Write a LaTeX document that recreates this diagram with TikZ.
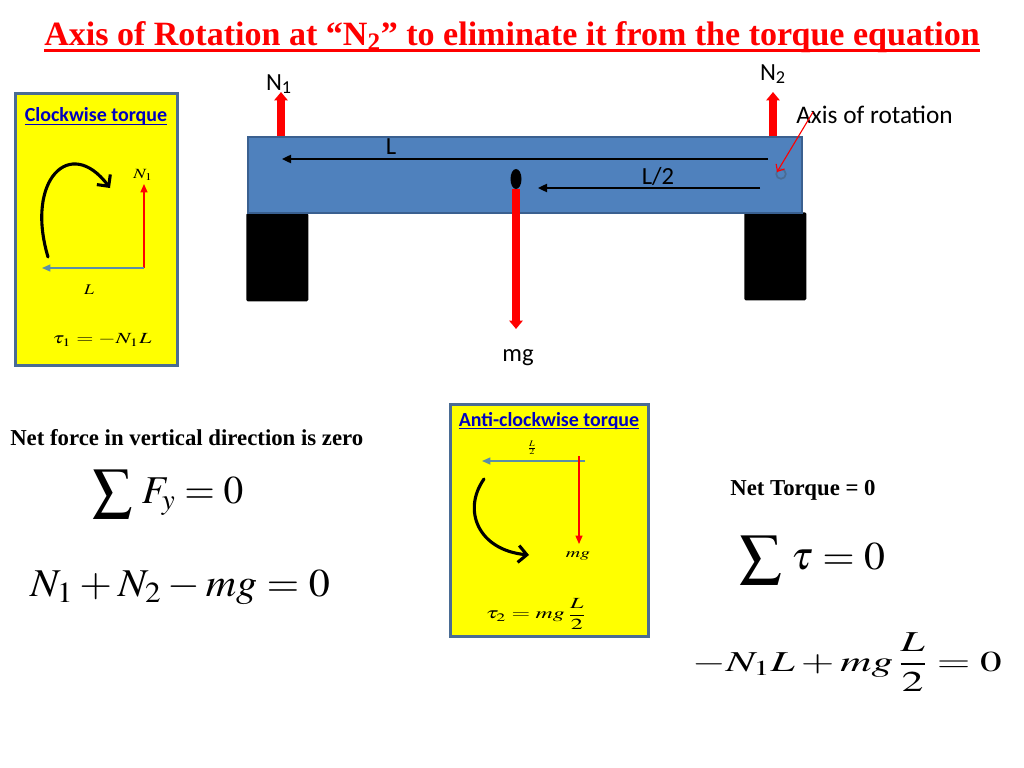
\documentclass[tikz,border=0pt]{standalone}
\usepackage{mathptmx}
\usepackage{amsmath}
\usepackage{graphicx}
\usepackage{fontspec}
\setmainfont{Liberation Serif}
\newfontfamily\calibri{Carlito}
\usetikzlibrary{arrows.meta,shapes.geometric}
\definecolor{beamblue}{HTML}{4F81BD}
\definecolor{beamedge}{HTML}{3A6090}
\definecolor{boxedge}{HTML}{4A6C94}
\definecolor{leverblue}{HTML}{5B8FA8}
\definecolor{headblue}{HTML}{0000C0}
\definecolor{boxyellow}{HTML}{FFFF00}
\tikzset{
    forcearrow/.style={draw=red,line width=5pt,-{Triangle[width=9.5pt,length=6pt]}},
    thinarrow/.style={draw=black,line width=1pt,-{Triangle[width=6pt,length=6.5pt]}},
    redarrow/.style={draw=red,line width=0.9pt,-{Triangle[width=5pt,length=6pt]}},
    leverarrow/.style={draw=leverblue,line width=1pt,-{Triangle[width=5pt,length=6pt]}},
    turnarrow/.style={draw=black,line width=2.2pt,-{Straight Barb[length=6pt,width=12pt,line width=2.2pt]},line cap=round},
    torquebox/.style={draw=boxedge,fill=boxyellow,line width=2pt,inner sep=0pt,anchor=north west},
    support/.style={fill=black,rounded corners=1pt,inner sep=0pt,anchor=north west},
    plainlabel/.style={inner sep=0pt,font=\calibri\fontsize{17.5}{19}\selectfont},
    boxtitle/.style={inner sep=0pt,text=headblue,font=\calibri\bfseries\fontsize{14.2}{16}\selectfont},
    boldnote/.style={inner sep=0pt,font=\bfseries\fontsize{16.2}{18}\selectfont}
}
\begin{document}
\begin{tikzpicture}[x=0.025cm,y=-0.025cm]
    \useasboundingbox (0,0) rectangle (1024,768);

    % title
    \node[inner sep=0pt,text=red,font=\bfseries\fontsize{24.2}{27}\selectfont] (title) at (512,37)
        {Axis of Rotation at “N\textsubscript{2}” to eliminate it from the torque equation};
    \coordinate (titleleft) at (44,50.5);\coordinate (titleright) at (980,50.5);
    \draw[red,line width=1.5pt] (titleleft) -- (titleright);

    % beam and supports
    \node[support,minimum width=1.55cm,minimum height=2.2cm] (leftsupport) at (246,213) {};
    \node[support,minimum width=1.55cm,minimum height=2.2cm] (rightsupport) at (744,212) {};
    \node[draw=beamedge,fill=beamblue,line width=1.5pt,inner sep=0pt,anchor=north west,
        minimum width=13.85cm,minimum height=1.9cm] (beam) at (247,136) {};

    % forces
    \coordinate (nonefoot) at (281,136);\coordinate (nonetip) at (281,92);
    \coordinate (ntwofoot) at (773,136);\coordinate (ntwotip) at (773,92);
    \draw[forcearrow] (nonefoot) -- (nonetip);
    \draw[forcearrow] (ntwofoot) -- (ntwotip);
    \node[plainlabel] (none) at (279,84) {N\textsubscript{1}};
    \node[plainlabel] (ntwo) at (773,74) {N\textsubscript{2}};

    \node[fill=black,ellipse,minimum width=0.275cm,minimum height=0.5cm,inner sep=0pt] (mass) at (516,179) {};
    \node[plainlabel] (mg) at (518,358) {mg};
    \coordinate (mgtip) at (516,329);
    \draw[forcearrow,shorten <=0pt] (mass.south) -- (mgtip);

    % distances
    \coordinate (lstart) at (768,159);\coordinate (lend) at (282,159);
    \draw[thinarrow] (lstart) -- (lend);
    \node[plainlabel] (lone) at (391,147) {L};
    \coordinate (halfstart) at (760,188);\coordinate (halfend) at (538,188);
    \draw[thinarrow] (halfstart) -- (halfend);
    \node[plainlabel] (lhalf) at (658,176) {L/2};

    % axis
    \node[draw=boxedge,line width=1.2pt,circle,minimum size=0.24cm,inner sep=0pt] (pivot) at (781,174) {};
    \node[plainlabel,anchor=west,font=\calibri\fontsize{18}{20}\selectfont] (axis) at (796,115) {Axis of rotation};
    \coordinate (axisfoot) at (813,112);\coordinate (axistip) at (777,172);
    \draw[draw=red,line width=0.8pt,-{Straight Barb[length=4pt,width=7pt]}] (axisfoot) -- (axistip);

    % clockwise box
    \node[torquebox,minimum width=4.05cm,minimum height=6.8cm] (cwbox) at (14,92) {};
    \node[boxtitle] (cwtitle) at (96,123.5) {\underline{\smash{Clockwise torque}}};
    \coordinate (cwcorner) at (144,268);\coordinate (cwtop) at (144,184);\coordinate (cwleft) at (42,268);
    \draw[redarrow] (cwcorner) -- (cwtop);
    \draw[leverarrow] (cwcorner) -- (cwleft);
    \coordinate (cwturnfoot) at (48,257);\coordinate (cwturntip) at (110,188);
    \draw[turnarrow] (cwturnfoot) .. controls (25,180) and (70,135) .. (cwturntip);
    \node[inner sep=0pt] (cwforce) at (143,175) {\scalebox{1.3}[1]{\fontsize{10}{11}\selectfont$N_{1}$}};
    \node[inner sep=0pt] (cwlength) at (89,290) {\scalebox{1.2}[1]{\fontsize{10.5}{11}\selectfont$L$}};
    \node[inner sep=0pt] (cwtorque) at (102,340) {\scalebox{1.43}[1]{\fontsize{11}{12}\selectfont$\tau_{1}=-N_{1}L$}};

    % anti-clockwise box
    \node[torquebox,minimum width=4.95cm,minimum height=5.8cm] (acwbox) at (449,403) {};
    \node[boxtitle] (acwtitle) at (549,428) {\underline{\smash{Anti-clockwise torque}}};
    \coordinate (acwstart) at (585,461);\coordinate (acwleft) at (482,461);
    \draw[leverarrow] (acwstart) -- (acwleft);
    \coordinate (acwtopforce) at (579,456);\coordinate (acwtip) at (579,544);
    \draw[redarrow] (acwtopforce) -- (acwtip);
    \coordinate (acwturnfoot) at (484,479);\coordinate (acwturntip) at (529,555);
    \draw[turnarrow] (acwturnfoot) .. controls (462,510) and (478,550) .. (acwturntip);
    \node[inner sep=0pt] (acwhalf) at (532,448) {\scalebox{1.2}[1]{\fontsize{8}{9}\selectfont$\frac{L}{2}$}};
    \node[inner sep=0pt] (acwforce) at (578,556) {\scalebox{1.5}[1]{\fontsize{9.5}{10}\selectfont$mg$}};
    \node[inner sep=0pt] (acwtorque) at (536,614) {\scalebox{1.55}[1]{\fontsize{11}{12}\selectfont$\tau_{2}=mg\,\dfrac{L}{2}$}};

    % equations
    \node[boldnote,anchor=west] (netforce) at (10,438) {Net force in vertical direction is zero};
    \node[inner sep=0pt] (sumforce) at (168,494) {\fontsize{28}{30}\selectfont$\displaystyle\sum\,F_{y}=0$};
    \node[inner sep=0pt] (forceeq) at (180,587) {\scalebox{1.07}[1]{\fontsize{28}{30}\selectfont$N_{1}+N_{2}-mg=0$}};
    \node[boldnote] (nettorque) at (803,490) {Net Torque = 0};
    \node[inner sep=0pt] (sumtorque) at (812,560) {\scalebox{1.06}[1]{\fontsize{28}{30}\selectfont$\displaystyle\sum\,\tau=0$}};
    \node[inner sep=0pt] (torqueeq) at (847,662) {\scalebox{1.5}[1]{\fontsize{20.5}{23}\selectfont$-N_{1}L+mg\,\dfrac{L}{2}=0$}};
\end{tikzpicture}
\end{document}
